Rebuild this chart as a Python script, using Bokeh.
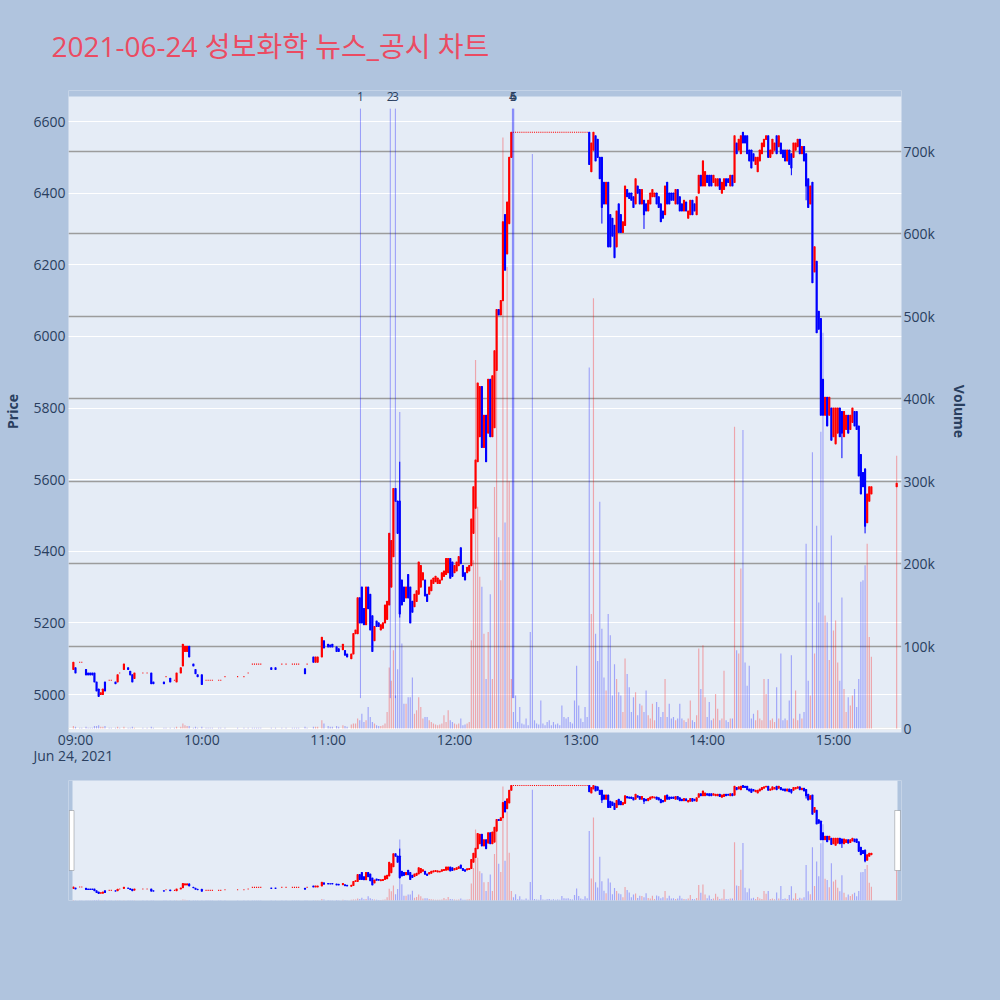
import pandas as pd
from bokeh.plotting import figure
from bokeh.models import (Range1d, LinearAxis, Grid, FixedTicker, SingleIntervalTicker, Title,
                          CustomJSTickFormatter, ColumnDataSource, LabelSet, BoxAnnotation, Span)
from bokeh.core.properties import value
from bokeh.layouts import column
from bokeh.embed import file_html
from bokeh.resources import INLINE

TITLE = "2021-06-24 성보화학 뉴스_공시 차트"
DAY = "2021-06-24"
DATE_LABEL = "Jun 24, 2021"
HOUR_LABELS = ["09:00", "10:00", "11:00", "12:00", "13:00", "14:00", "15:00"]

# ---- 1-minute candles: minute offset from 09:00, open, close, volume (thousands) ----
minute_am = [-1, 0, 2, 3, 5, 6, 7, 8, 9, 10,
             11, 12, 13, 14, 16, 17, 19, 20, 21, 23,
             25, 26, 27, 28, 32, 34, 36, 37, 42, 43,
             45, 47, 48, 50, 51, 52, 53, 54, 56, 57,
             58, 60, 62, 63, 64, 65, 68, 69, 71, 77,
             80, 82, 84, 85, 86, 87, 88, 93, 95, 98,
             100, 103, 104, 105, 106, 109, 110, 113, 114, 115,
             117, 118, 120, 121, 122, 124, 125, 127, 128, 129]
open_am = [5070, 5075, 5090, 5090, 5070, 5060, 5060, 5060, 5060, 5035,
           5015, 5000, 5000, 5035, 5040, 5040, 5035, 5035, 5060, 5070,
           5075, 5065, 5055, 5045, 5060, 5060, 5060, 5035, 5035, 5050,
           5045, 5040, 5035, 5060, 5080, 5120, 5120, 5135, 5085, 5070,
           5055, 5055, 5040, 5040, 5040, 5040, 5040, 5040, 5050, 5050,
           5050, 5060, 5085, 5085, 5085, 5085, 5085, 5075, 5075, 5085,
           5085, 5085, 5085, 5085, 5085, 5072, 5085, 5105, 5090, 5090,
           5105, 5150, 5140, 5138, 5140, 5133, 5128, 5125, 5123, 5113]
close_am = [5090, 5060, 5090, 5090, 5055, 5055, 5055, 5055, 5035, 5010,
            4995, 5005, 5015, 5010, 5040, 5040, 5030, 5055, 5060, 5085,
            5070, 5055, 5035, 5060, 5060, 5060, 5030, 5030, 5030, 5050,
            5035, 5040, 5060, 5075, 5140, 5135, 5135, 5105, 5080, 5058,
            5050, 5028, 5040, 5040, 5040, 5040, 5040, 5040, 5050, 5050,
            5050, 5060, 5085, 5085, 5085, 5085, 5085, 5070, 5070, 5085,
            5085, 5085, 5085, 5085, 5085, 5058, 5085, 5090, 5105, 5105,
            5160, 5130, 5133, 5133, 5133, 5120, 5120, 5140, 5110, 5105]
vol_am = [3, 2, 1, 1, 2, 1, 1, 1, 3, 3,
          4, 2, 2, 3, 1, 1, 1, 2, 1, 2,
          1, 1, 2, 1, 1, 1, 2, 1, 1, 1,
          1, 1, 2, 2, 6, 4, 3, 3, 1, 2,
          1, 2, 1, 1, 1, 1, 1, 1, 1, 1,
          1, 1, 1, 1, 1, 1, 1, 1, 1, 1,
          1, 1, 1, 1, 1, 2, 1, 2, 2, 2,
          10, 6, 3, 2, 2, 3, 2, 4, 3, 2]

minute_rally = [131, 132, 133, 134, 135, 136, 137, 138, 139, 140,
                141, 142, 143, 144, 145, 146, 147, 148, 149, 150,
                151, 152, 153, 154, 155, 156, 157, 158, 159, 160,
                161, 162, 163, 164, 165, 166, 167, 168, 169, 170,
                171, 172, 173, 174, 175, 176, 177, 178, 179, 180,
                181, 182, 183, 184, 185, 186, 187, 188, 189, 190,
                191, 192, 193, 194, 195, 196, 197, 198, 199, 200,
                201, 202, 203, 204, 205, 206, 207]
open_rally = [5100, 5113, 5170, 5170, 5270, 5300, 5240, 5195, 5300, 5280,
              5220, 5150, 5205, 5200, 5180, 5185, 5200, 5210, 5250, 5300,
              5385, 5575, 5540, 5540, 5320, 5300, 5270, 5335, 5300, 5260,
              5245, 5260, 5280, 5300, 5320, 5320, 5280, 5280, 5290, 5310,
              5315, 5310, 5310, 5320, 5330, 5335, 5340, 5380, 5370, 5340,
              5345, 5360, 5410, 5360, 5340, 5340, 5345, 5360, 5450, 5520,
              5650, 5720, 5860, 5690, 5780, 5730, 5880, 5720, 5745, 5905,
              6075, 6060, 6100, 6340, 6230, 6315, 6500]
close_rally = [5113, 5170, 5180, 5270, 5200, 5200, 5195, 5300, 5240, 5180,
               5120, 5190, 5190, 5190, 5195, 5200, 5250, 5260, 5450, 5430,
               5575, 5540, 5450, 5225, 5250, 5260, 5300, 5270, 5200, 5230,
               5280, 5290, 5370, 5360, 5340, 5275, 5260, 5300, 5320, 5325,
               5330, 5325, 5320, 5340, 5345, 5380, 5380, 5325, 5330, 5360,
               5370, 5385, 5365, 5330, 5320, 5355, 5360, 5490, 5580, 5655,
               5870, 5860, 5690, 5780, 5650, 5880, 5720, 5890, 5960, 6075,
               6060, 6100, 6320, 6185, 6375, 6500, 6570]
vol_rally = [5, 6, 6, 12, 10, 18, 8, 10, 26, 14,
             8, 6, 4, 3, 3, 4, 6, 20, 74, 58,
             95, 40, 72, 384, 103, 30, 30, 38, 38, 62,
             18, 22, 38, 26, 12, 14, 14, 10, 8, 6,
             5, 4, 5, 6, 16, 8, 22, 10, 8, 6,
             5, 6, 12, 4, 5, 6, 8, 107, 204, 447,
             269, 184, 172, 115, 60, 117, 163, 60, 293, 470,
             232, 180, 717, 250, 560, 300, 60]

# upper price limit (6570) reached: flat candles
minute_limit = [208, 209, 210, 211, 212, 213, 214, 215, 216, 217,
                218, 219, 220, 221, 222, 223, 224, 225, 226, 227,
                228, 229, 230, 231, 232, 233, 234, 235, 236, 237,
                238, 239, 240, 241, 242, 243]
open_limit = [6570] * 36
close_limit = [6570] * 36
vol_limit = [20, 40, 8, 26, 6, 5, 12, 4, 117, 697,
             10, 6, 5, 34, 6, 4, 8, 10, 4, 8,
             5, 6, 4, 28, 14, 12, 14, 8, 6, 34,
             76, 28, 12, 8, 26, 14]

minute_pm = [244, 245, 246, 247, 248, 249, 250, 251, 252, 253,
             254, 255, 256, 257, 258, 259, 260, 261, 262, 263,
             264, 265, 266, 267, 268, 269, 270, 271, 272, 273,
             274, 275, 276, 277, 278, 279, 280, 281, 282, 283,
             284, 285, 286, 287, 288, 289, 290, 291, 292, 293,
             294, 295, 296, 297, 298, 299, 300, 301, 302, 303,
             304, 305, 306, 307, 308, 309, 310, 311, 312, 313,
             314, 315, 316, 317, 318, 319, 320, 321, 322, 323,
             324, 325, 326, 327, 328, 329, 330, 331, 332, 333,
             334, 335, 336, 337, 338, 339, 340, 341, 342, 343,
             344, 345, 346, 347, 348, 349, 350, 351, 352, 353,
             354, 355, 356, 357, 358, 359, 360, 361, 362, 363,
             364, 365, 366, 367, 368, 369, 370, 371, 372, 373,
             374, 375, 376, 377, 378, 390]
open_pm = [6570, 6460, 6520, 6560, 6550, 6500, 6500, 6430, 6370, 6430,
           6340, 6330, 6310, 6250, 6370, 6340, 6290, 6310, 6410, 6400,
           6400, 6390, 6370, 6420, 6410, 6370, 6380, 6370, 6350, 6370,
           6390, 6390, 6400, 6390, 6370, 6350, 6340, 6430, 6400, 6400,
           6400, 6370, 6410, 6390, 6370, 6350, 6375, 6330, 6340, 6380,
           6370, 6340, 6400, 6450, 6420, 6420, 6450, 6450, 6450, 6430,
           6420, 6420, 6440, 6400, 6410, 6440, 6440, 6420, 6450, 6430,
           6540, 6520, 6510, 6570, 6560, 6560, 6520, 6520, 6510, 6480,
           6460, 6490, 6510, 6530, 6550, 6560, 6500, 6510, 6520, 6560,
           6530, 6540, 6520, 6520, 6490, 6520, 6510, 6500, 6520, 6530,
           6550, 6510, 6530, 6510, 6440, 6370, 6430, 6180, 6210, 6070,
           6050, 5880, 5780, 5830, 5780, 5800, 5720, 5700, 5730, 5800,
           5790, 5720, 5740, 5780, 5740, 5760, 5790, 5790, 5750, 5670,
           5620, 5630, 5480, 5540, 5560, 5580]
close_pm = [6480, 6540, 6570, 6490, 6500, 6440, 6360, 6370, 6430, 6250,
            6250, 6280, 6220, 6350, 6290, 6290, 6320, 6420, 6390, 6385,
            6380, 6360, 6440, 6400, 6370, 6410, 6340, 6350, 6380, 6400,
            6410, 6400, 6370, 6360, 6320, 6330, 6420, 6370, 6370, 6380,
            6380, 6410, 6370, 6350, 6350, 6380, 6350, 6350, 6380, 6340,
            6350, 6390, 6450, 6420, 6490, 6460, 6430, 6420, 6420, 6450,
            6440, 6440, 6410, 6430, 6440, 6420, 6430, 6450, 6420, 6560,
            6510, 6550, 6560, 6540, 6540, 6510, 6490, 6470, 6490, 6500,
            6500, 6520, 6540, 6550, 6560, 6500, 6520, 6550, 6540, 6510,
            6560, 6510, 6500, 6490, 6520, 6480, 6470, 6540, 6540, 6550,
            6510, 6530, 6490, 6420, 6360, 6420, 6150, 6250, 6010, 6020,
            5780, 5780, 5830, 5750, 5830, 5710, 5800, 5800, 5800, 5720,
            5730, 5790, 5780, 5730, 5780, 5800, 5750, 5740, 5610, 5560,
            5580, 5470, 5560, 5580, 5580, 5590]
vol_pm = [438, 139, 522, 115, 82, 275, 121, 62, 46, 139,
          113, 40, 78, 60, 44, 40, 20, 85, 66, 50,
          20, 38, 44, 16, 30, 28, 20, 46, 16, 12,
          30, 10, 32, 26, 14, 20, 60, 14, 30, 12,
          14, 10, 12, 30, 12, 10, 8, 12, 34, 10,
          8, 16, 97, 48, 101, 38, 14, 32, 10, 12,
          42, 24, 10, 12, 70, 10, 8, 12, 12, 366,
          95, 91, 194, 362, 80, 52, 76, 12, 18, 10,
          22, 12, 10, 60, 42, 60, 10, 12, 8, 50,
          12, 91, 10, 12, 10, 34, 89, 12, 46, 10,
          18, 12, 20, 224, 58, 40, 335, 91, 246, 153,
          360, 480, 137, 129, 83, 234, 119, 131, 80, 58,
          159, 48, 20, 38, 28, 40, 48, 26, 60, 178,
          180, 198, 224, 111, 87, 331]

# wick extremes beyond the candle bodies
high_wick_minute = [154]
high_wick_price = [5650]
low_wick_minute = [154, 250, 270, 340, 347, 364, 375]
low_wick_price = [5215, 6315, 6300, 6450, 6380, 5660, 5450]

# news / disclosure markers
event_labels = ["1", "2", "3", "4", "5", "6"]
event_times = ["11:15:20", "11:29:30", "11:31:55", "12:27:30", "12:27:50", "12:28:10"]
event_low, event_high = 4990, 6636

# ---------------------------------------------------------------------------
UP, DOWN = "#FF0000", "#0000FF"
BG, PAGE = "#E5ECF6", "#B0C4DE"
TXT = "#2a3f5f"
FONT = "Open Sans"

BASE = pd.Timestamp(DAY + " 09:00")


def ms(minutes):
    return (BASE + pd.Timedelta(minutes=minutes)).value / 1e6


minutes = minute_am + minute_rally + minute_limit + minute_pm
opens = open_am + open_rally + open_limit + open_pm
closes = close_am + close_rally + close_limit + close_pm
vols = vol_am + vol_rally + vol_limit + vol_pm

highs = [max(o, c) for o, c in zip(opens, closes)]
lows = [min(o, c) for o, c in zip(opens, closes)]
for m, h in zip(high_wick_minute, high_wick_price):
    highs[minutes.index(m)] = h
for m, l in zip(low_wick_minute, low_wick_price):
    lows[minutes.index(m)] = l

src = ColumnDataSource(dict(
    t=[BASE + pd.Timedelta(minutes=m) for m in minutes],
    top=[max(o, c) for o, c in zip(opens, closes)],
    bottom=[min(o, c) for o, c in zip(opens, closes)],
    high=highs, low=lows,
    vol=[v * 1000 for v in vols],
    color=[UP if c >= o else DOWN for o, c in zip(opens, closes)],
    vcolor=[UP if c > o else DOWN for o, c in zip(opens, closes)],
))

X0, X1 = ms(-3.32), ms(392.3)
xr = Range1d(X0, X1)
BODY_W = 0.5 * 60000
VOL_W = 0.55 * 60000


def draw_series(fig):
    fig.vbar(x="t", top="vol", bottom=0, width=VOL_W, source=src, y_range_name="vol",
             fill_color="vcolor", fill_alpha=0.3, line_alpha=0)
    fig.segment(x0="t", x1="t", y0="low", y1="high", source=src, line_color="color", line_width=1)
    fig.vbar(x="t", top="top", bottom="bottom", width=BODY_W, source=src,
             fill_color="color", line_color="color", line_width=1.1)


# ---------------- main chart ----------------
# The frame reaches 6px above the visible plot area (covered by a page-coloured strip)
# so that the marker labels straddling the plot's top edge are not clipped.
PRICE_TOP = 6669.8
p = figure(width=1000, height=775, x_axis_type="datetime", x_range=xr,
           y_range=Range1d(4894, 6686.6), output_backend="svg", toolbar_location=None,
           min_border_left=68, min_border_right=99, min_border_top=90, min_border_bottom=43,
           background_fill_color=BG, border_fill_color=PAGE, outline_line_color=None)
p.extra_y_ranges = {"vol": Range1d(-4853, 774000)}

p.title.text = TITLE
p.title.align = "left"
p.title.vertical_align = "top"
p.title.offset = -17
p.title.standoff = 48
p.title.text_font_size = "28px"
p.title.text_font_style = "normal"
p.title.text_color = "#EB4B62"
p.title.text_font = "'Open Sans', 'Noto Sans CJK KR'"

# axes
p.yaxis.ticker = SingleIntervalTicker(interval=200, num_minor_ticks=0)
p.yaxis.axis_label = "Price"
vax = LinearAxis(y_range_name="vol", axis_label="Volume",
                 ticker=SingleIntervalTicker(interval=100000, num_minor_ticks=0),
                 formatter=CustomJSTickFormatter(code="return tick == 0 ? '0' : (tick/1000).toFixed(0) + 'k';"))
p.add_layout(vax, "right")

hour_ticks = [pd.Timestamp(DAY + " " + h).value / 1e6 for h in HOUR_LABELS]
p.xaxis.ticker = FixedTicker(ticks=hour_ticks)
p.xaxis.formatter = CustomJSTickFormatter(code="""
const d = new Date(tick);
return String(d.getUTCHours()).padStart(2, '0') + ':' + String(d.getUTCMinutes()).padStart(2, '0');
""")

for ax in [p.xaxis[0], p.yaxis[0], vax]:
    ax.axis_line_color = None
    ax.major_tick_line_color = None
    ax.minor_tick_line_color = None
    ax.major_tick_out = 0
    ax.major_tick_in = 0
    ax.minor_tick_out = 0
    ax.minor_tick_in = 0
    ax.major_label_text_font_size = "14px"
    ax.major_label_text_color = TXT
    ax.major_label_text_font = FONT
    ax.axis_label_text_font_size = "14px"
    ax.axis_label_text_font_style = "bold"
    ax.axis_label_text_color = TXT
    ax.axis_label_text_font = FONT
p.xaxis.major_label_standoff = -3
p.yaxis[0].major_label_standoff = 3
p.yaxis[0].axis_label_standoff = 8
vax.major_label_standoff = 2
vax.axis_label_standoff = 12

p.add_layout(Title(text=DATE_LABEL, align="left", vertical_align="top", offset=-35, standoff=-12,
                   text_font_size="14px", text_font_style="normal",
                   text_color=TXT, text_font=FONT), "below")

p.xgrid.grid_line_color = None
p.ygrid.grid_line_color = "white"
p.ygrid.grid_line_width = 1
vgrid = Grid(dimension=1, ticker=vax.ticker, y_range_name="vol",
             grid_line_color="#9c9c9c", grid_line_width=1.3)
p.add_layout(vgrid)
p.add_layout(Span(location=0, dimension="width", y_range_name="vol",
                  line_color="white", line_width=2, level="underlay"))

draw_series(p)

ev_t = [pd.Timestamp(DAY + " " + t) for t in event_times]
p.segment(x0=ev_t, x1=ev_t, y0=event_low, y1=event_high, line_color=DOWN, line_alpha=0.35, line_width=1)
p.add_layout(BoxAnnotation(bottom=PRICE_TOP, fill_color=PAGE, fill_alpha=1, line_alpha=0))
p.add_layout(LabelSet(x="t", y=PRICE_TOP, text="label",
                      source=ColumnDataSource(dict(t=ev_t, label=event_labels)),
                      text_align="center", text_baseline="middle", text_font_size="12px",
                      text_color=TXT, text_font=value(FONT)))

# ---------------- range slider ----------------
s = figure(width=1000, height=220, x_axis_type="datetime", x_range=xr,
           y_range=Range1d(4893, 6643), output_backend="svg", toolbar_location=None,
           x_axis_location=None, y_axis_location=None,
           min_border_left=68, min_border_right=99, min_border_top=5, min_border_bottom=95,
           background_fill_color=BG, border_fill_color=PAGE, outline_line_color=None)
s.extra_y_ranges = {"vol": Range1d(0, 755000)}
s.grid.grid_line_color = None
draw_series(s)
strip = 1.9 * 60000
s.add_layout(BoxAnnotation(left=X0, right=X0 + strip, fill_color=PAGE, fill_alpha=1, line_alpha=0))
s.add_layout(BoxAnnotation(left=X1 - strip, right=X1, fill_color=PAGE, fill_alpha=1, line_alpha=0))
h_lo = 4893 + 0.25 * (6643 - 4893)
h_hi = 4893 + 0.75 * (6643 - 4893)
s.add_layout(BoxAnnotation(left=X0 + 0.4 * 60000, right=X0 + 2.6 * 60000, bottom=h_lo, top=h_hi,
                           fill_color="white", fill_alpha=1, line_color="#444444", line_width=1))
s.add_layout(BoxAnnotation(left=X1 - 3.2 * 60000, right=X1 - 0.5 * 60000, bottom=h_lo, top=h_hi,
                           fill_color="white", fill_alpha=1, line_color="#444444", line_width=1))

layout = column(p, s, spacing=0)
html = file_html(layout, INLINE, title=TITLE)
html = html.replace("</head>", "<style>html,body{margin:0;padding:0;background:#B0C4DE;}</style></head>", 1)
open("out.html", "w").write(html)
